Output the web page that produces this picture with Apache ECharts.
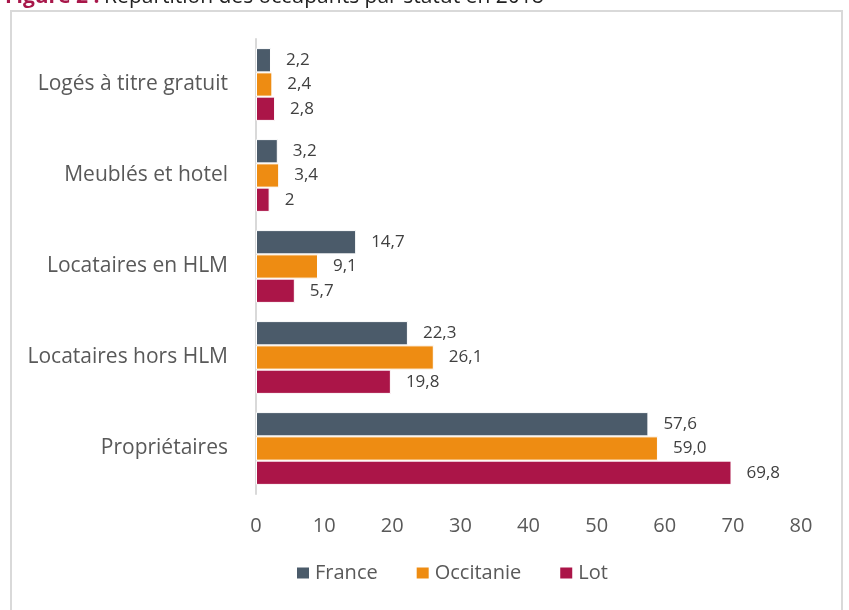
<!DOCTYPE html>
<html>
<head>
<meta charset="utf-8">
<script src="https://cdn.jsdelivr.net/npm/echarts@6/dist/echarts.min.js"></script>
<style>
  html, body { margin: 0; padding: 0; background: #fff; }
  #main { width: 849px; height: 610px; }
</style>
</head>
<body>
<div id="main"></div>
<script>
// statuts, de haut en bas
const categories = ['Logés à titre gratuit', 'Meublés et hotel', 'Locataires en HLM', 'Locataires hors HLM', 'Propriétaires']
// part des occupants (%)
const france = [2.2, 3.2, 14.7, 22.3, 57.6]
const occitanie = [2.4, 3.4, 9.1, 26.1, 59.0]
const lot = [2.8, 2.0, 5.7, 19.8, 69.8]
// étiquettes telles qu'affichées
const franceLabels = ['2,2', '3,2', '14,7', '22,3', '57,6']
const occitanieLabels = ['2,4', '3,4', '9,1', '26,1', '59,0']
const lotLabels = ['2,8', '2', '5,7', '19,8', '69,8']
const xTicks = [0, 10, 20, 30, 40, 50, 60, 70, 80]

const font = 'Open Sans'
const chart = echarts.init(document.getElementById('main'))

function barSeries(name, values, labels, color) {
    return {
        name: name,
        type: 'bar',
        data: values,
        barGap: '0%',
        barCategoryGap: '20%',
        itemStyle: { color: color, borderColor: '#ffffff', borderWidth: 1 },
        label: {
            show: true,
            position: 'right',
            distance: 15,
            color: '#404040',
            fontFamily: font,
            fontSize: 17,
            formatter: p => labels[p.dataIndex]
        }
    }
}

const option = {
    animation: false,
    textStyle: { fontFamily: font },
    title: {
        left: 0,
        top: -18,
        text: '{a|Figure 2 :} {b|Répartition des occupants par statut en 2018}',
        textStyle: {
            rich: {
                a: { fontFamily: font, fontSize: 21, fontWeight: 'bold', color: '#a8174a' },
                b: { fontFamily: font, fontSize: 21, fontWeight: 'normal', color: '#222222' }
            }
        }
    },
    graphic: [{
        type: 'rect',
        shape: { x: 11, y: 11, width: 831, height: 620 },
        style: { fill: 'none', stroke: '#d9d9d9', lineWidth: 2 },
        silent: true
    }],
    legend: {
        left: 290,
        top: 558,
        itemWidth: 14,
        itemHeight: 13,
        itemGap: 37,
        icon: 'rect',
        textStyle: { fontFamily: font, fontSize: 20, color: '#595959' },
        data: ['France', 'Occitanie', 'Lot']
    },
    grid: { left: 256, right: 48, top: 39, bottom: 116, containLabel: false },
    xAxis: {
        type: 'value',
        min: 0,
        max: 80,
        interval: 10,
        axisLine: { show: false },
        axisTick: { show: false },
        splitLine: { show: false },
        axisLabel: {
            margin: 22,
            color: '#595959',
            fontFamily: font,
            fontSize: 20,
            formatter: v => xTicks.includes(v) ? String(v) : ''
        }
    },
    yAxis: {
        type: 'category',
        inverse: true,
        data: categories,
        axisTick: { show: false },
        axisLine: { show: true, lineStyle: { color: '#d9d9d9', width: 2 } },
        axisLabel: {
            margin: 28,
            color: '#595959',
            fontFamily: font,
            fontSize: 21
        }
    },
    series: [
        barSeries('France', france, franceLabels, '#4b5b6a'),
        barSeries('Occitanie', occitanie, occitanieLabels, '#ee8c12'),
        barSeries('Lot', lot, lotLabels, '#ab1548')
    ]
}

chart.setOption(option)
</script>
</body>
</html>
